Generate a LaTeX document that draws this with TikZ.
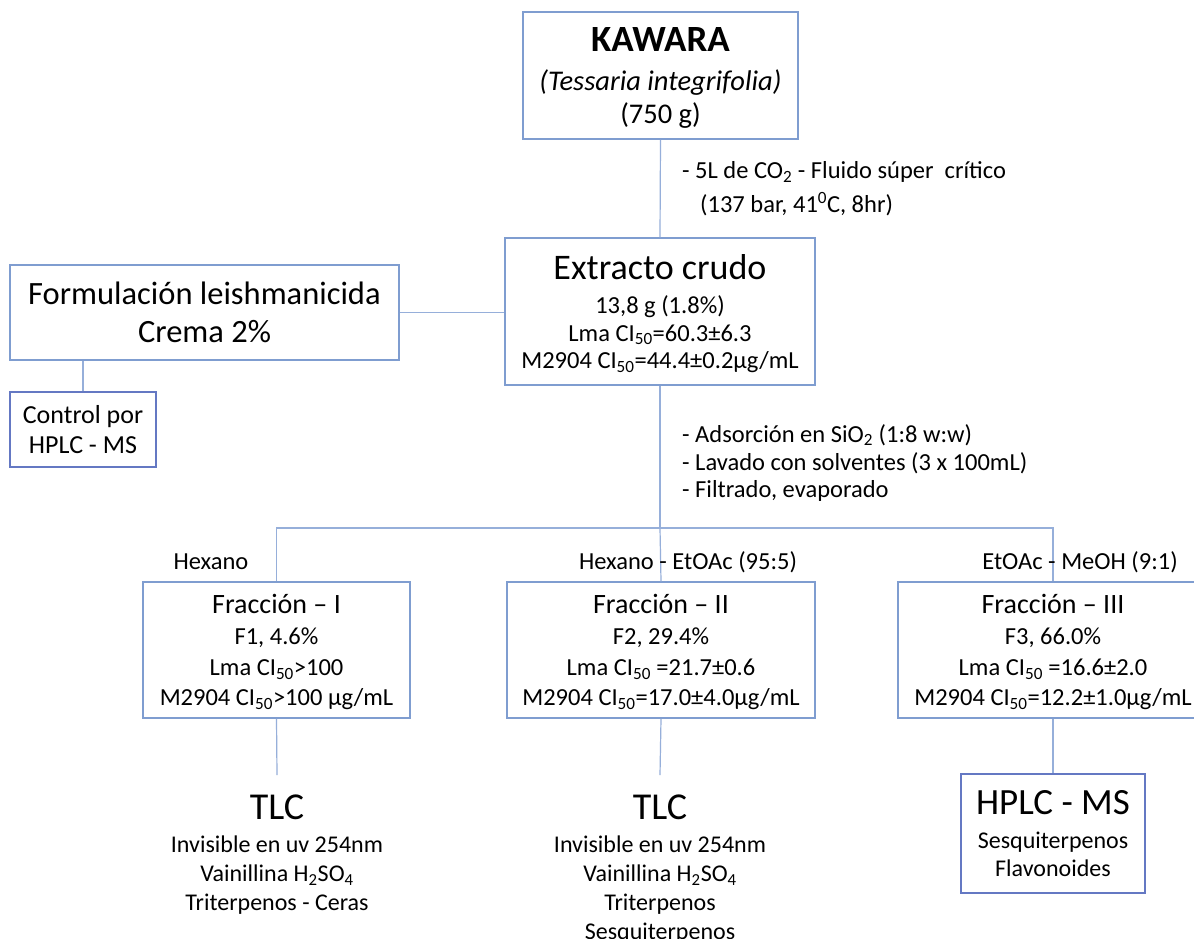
\documentclass[tikz,border=0pt]{standalone}
\usepackage{fontspec}
\setmainfont{Carlito}
\definecolor{boxc}{RGB}{127,157,208}
\definecolor{boxd}{RGB}{100,120,195}
\definecolor{linec}{RGB}{150,175,218}
\newcommand\fsz[2]{\fontsize{#1}{#2}\selectfont}
\newcommand\sub[1]{\textsubscript{#1}}
% last line with reduced depth: moves the centred text block down by #1/2
\newcommand\lastln[2]{\raisebox{0pt}[\height][\dimexpr\depth-#1\relax]{#2}}
\begin{document}
\begin{tikzpicture}[x=1pt,y=-1pt,
  box/.style={draw=boxc, line width=1.5pt, inner sep=0pt, align=center, fill=white},
  dbox/.style={box, draw=boxd},
  conn/.style={draw=linec, line width=1.2pt},
  txt/.style={inner sep=0pt, align=center},
  note/.style={inner sep=0pt, align=left, anchor=west, font=\fsz{24.5}{28}}]
\clip (0,0) rectangle (1194,938);
\fill[white] (0,0) rectangle (1194,938);

% boxes
\node[box, minimum width=275pt, minimum height=127pt, font=\fsz{28.5}{33}] (kawara) at (660.5,75.5)
  {{\fsz{37}{37}\bfseries KAWARA}\\[6pt]{\itshape (Tessaria integrifolia)}\\\lastln{6pt}{(750 g)}};

\node[box, minimum width=310pt, minimum height=147pt, font=\fsz{24.5}{27.5}] (extracto) at (660,311.5)
  {{\fsz{36}{36}Extracto crudo}\\[7pt]13,8 g (1.8\%)\\Lma CI\sub{50}=60.3±6.3\\\lastln{8pt}{M2904 CI\sub{50}=44.4±0.2µg/mL}};

\node[box, minimum width=389pt, minimum height=95pt, font=\fsz{32.5}{38}] (form) at (204.5,312.5)
  {Formulación leishmanicida\\Crema 2\%};

\node[dbox, minimum width=146pt, minimum height=75pt, font=\fsz{26}{30}] (control) at (83,429.5)
  {Control por\\HPLC - MS};

\node[box, minimum width=267pt, minimum height=136pt, font=\fsz{24.5}{30.5}] (f1) at (276.5,650)
  {{\fsz{28}{28}Fracción – I}\\[1pt]F1, 4.6\%\\Lma CI\sub{50}>100\\\lastln{7pt}{M2904 CI\sub{50}>100 µg/mL}};

\node[box, minimum width=308pt, minimum height=136pt, font=\fsz{24.5}{30.5}] (f2) at (661,650)
  {{\fsz{28}{28}Fracción – II}\\[1pt]F2, 29.4\%\\Lma CI\sub{50} =21.7±0.6\\\lastln{7pt}{M2904 CI\sub{50}=17.0±4.0µg/mL}};

\node[box, minimum width=310pt, minimum height=136pt, font=\fsz{24.5}{30.5}] (f3) at (1053,650)
  {{\fsz{28}{28}Fracción – III}\\[1pt]F3, 66.0\%\\Lma CI\sub{50} =16.6±2.0\\\lastln{7pt}{M2904 CI\sub{50}=12.2±1.0µg/mL}};

\node[dbox, minimum width=184pt, minimum height=119pt, font=\fsz{24}{28}] (hplc) at (1053,833.5)
  {{\fsz{37}{37}HPLC - MS}\\[6pt]Sesquiterpenos\\\lastln{6pt}{Flavonoides}};

% TLC results (no frame)
\node[txt, anchor=north, inner ysep=20pt, font=\fsz{24}{29}] (tlc1) at (277,775)
  {{\fsz{38}{38}TLC}\\[4pt]Invisible en uv 254nm\\Vainillina H\sub{2}SO\sub{4}\\Triterpenos - Ceras};
\node[txt, anchor=north, inner ysep=20pt, font=\fsz{24}{29}] (tlc2) at (660,775)
  {{\fsz{38}{38}TLC}\\[4pt]Invisible en uv 254nm\\Vainillina H\sub{2}SO\sub{4}\\Triterpenos\\Sesquiterpenos};

% branch point
\coordinate (br) at (660,528);

% connectors
\draw[conn] (kawara.south) -- (extracto.north);
\draw[conn] (form.east) -- (form.east -| extracto.west);
\draw[conn] (control.north) -- (control.north |- form.south);
\draw[conn] (extracto.south) -- (br);
\draw[conn] (f1.north) -- (f1.north |- br) -- (f3.north |- br) -- (f3.north);
\draw[conn] (br) -- (f2.north);
\draw[conn] (f1.south) -- (tlc1.north);
\draw[conn] (f2.south) -- (tlc2.north);
\draw[conn] (f3.south) -- (hplc.north);

% process notes
\node[note] (n1) at (682,172) {- 5L de CO\sub{2} - Fluido súper~ crítico};
\node[note] (n2) at (700,204) {(137 bar, 41\textsuperscript{0}C, 8hr)};
\node[note] (n3) at (682,435) {- Adsorción en SiO\sub{2} (1:8 w:w)};
\node[note] (n4) at (682,463) {- Lavado con solventes (3 x 100mL)};
\node[note] (n5) at (682,491) {- Filtrado, evaporado};

% solvent labels
\node[txt, font=\fsz{24.5}{28}] (s1) at (211,562) {Hexano};
\node[txt, font=\fsz{24.5}{28}] (s2) at (688,562) {Hexano - EtOAc (95:5)};
\node[txt, font=\fsz{24.5}{28}] (s3) at (1080,562) {EtOAc - MeOH (9:1)};
\end{tikzpicture}
\end{document}
